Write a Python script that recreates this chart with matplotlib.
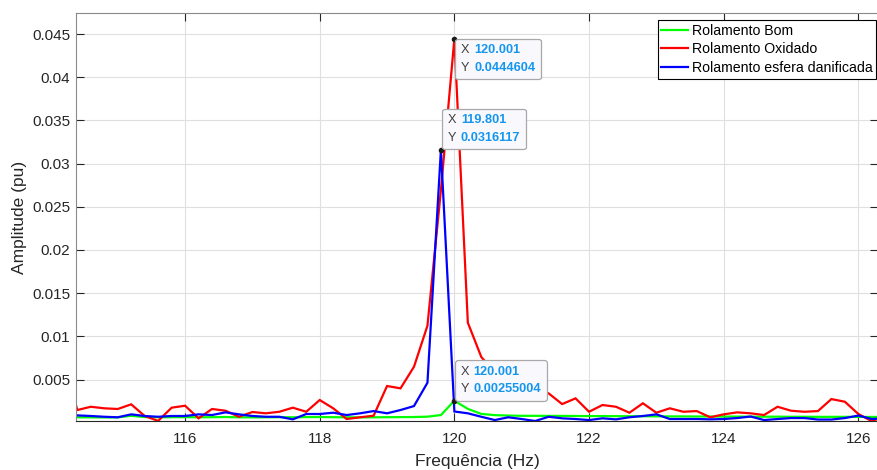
import matplotlib
matplotlib.use("Agg")
import matplotlib.pyplot as plt
from matplotlib.offsetbox import TextArea, HPacker, VPacker, AnnotationBbox

plt.rcParams['font.family'] = ['Liberation Sans', 'DejaVu Sans']

# ---------------- data ----------------
freq = [114.201, 114.401, 114.601, 114.801, 115.001, 115.201, 115.401, 115.601,
        115.801, 116.001, 116.201, 116.401, 116.601, 116.801, 117.001, 117.201,
        117.401, 117.601, 117.801, 118.001, 118.201, 118.401, 118.601, 118.801,
        119.001, 119.201, 119.401, 119.601, 119.801, 120.001, 120.201, 120.401,
        120.601, 120.801, 121.001, 121.201, 121.401, 121.601, 121.801, 122.001,
        122.201, 122.401, 122.601, 122.801, 123.001, 123.201, 123.401, 123.601,
        123.801, 124.001, 124.201, 124.401, 124.601, 124.801, 125.001, 125.201,
        125.401, 125.601, 125.801, 126.001, 126.201, 126.401]

bom = [0.00065, 0.00063, 0.00062, 0.00061, 0.00062, 0.00080, 0.00066, 0.00063,
       0.00064, 0.00065, 0.00063, 0.00064, 0.00066, 0.00063, 0.00062, 0.00063,
       0.00064, 0.00063, 0.00065, 0.00066, 0.00064, 0.00063, 0.00062, 0.00063,
       0.00064, 0.00065, 0.00066, 0.00070, 0.00089, 0.00255004, 0.00160, 0.00102,
       0.00088, 0.00083, 0.00080, 0.00080, 0.00079, 0.00079, 0.00078, 0.00077,
       0.00077, 0.00076, 0.00075, 0.00075, 0.00074, 0.00073, 0.00073, 0.00072,
       0.00072, 0.00071, 0.00071, 0.00070, 0.00070, 0.00070, 0.00069, 0.00069,
       0.00068, 0.00068, 0.00068, 0.00067, 0.00067, 0.00066]

oxidado = [0.00700, 0.00147, 0.00185, 0.00167, 0.00159, 0.00213, 0.00078, 0.00021,
           0.00174, 0.00197, 0.00051, 0.00159, 0.00139, 0.00069, 0.00124, 0.00109,
           0.00127, 0.00174, 0.00127, 0.00263, 0.00167, 0.00043, 0.00063, 0.00081,
           0.00425, 0.00398, 0.00648, 0.01123, 0.02694, 0.0444604, 0.01158, 0.00761,
           0.00580, 0.00470, 0.00420, 0.00390, 0.00340, 0.00216, 0.00282, 0.00127,
           0.00205, 0.00185, 0.00116, 0.00225, 0.00116, 0.00167, 0.00127, 0.00135,
           0.00063, 0.00097, 0.00120, 0.00109, 0.00089, 0.00185, 0.00139, 0.00127,
           0.00135, 0.00274, 0.00243, 0.00101, 0.00018, 0.00080]

esfera = [0.00100, 0.00085, 0.00078, 0.00069, 0.00063, 0.00097, 0.00078, 0.00069,
          0.00078, 0.00078, 0.00097, 0.00089, 0.00120, 0.00097, 0.00078, 0.00069,
          0.00069, 0.00039, 0.00101, 0.00101, 0.00116, 0.00089, 0.00109, 0.00135,
          0.00109, 0.00147, 0.00193, 0.00463, 0.0316117, 0.00130, 0.00109, 0.00069,
          0.00031, 0.00063, 0.00043, 0.00020, 0.00069, 0.00051, 0.00043, 0.00031,
          0.00051, 0.00039, 0.00063, 0.00078, 0.00097, 0.00043, 0.00043, 0.00043,
          0.00039, 0.00043, 0.00054, 0.00072, 0.00031, 0.00043, 0.00054, 0.00054,
          0.00037, 0.00037, 0.00054, 0.00083, 0.00043, 0.00050]

labels = ['Rolamento Bom', 'Rolamento Oxidado', 'Rolamento esfera danificada']
colors = ['#00ff00', '#ff0000', '#0000ff']

xticks = [116, 118, 120, 122, 124, 126]
yticks = [0.005, 0.01, 0.015, 0.02, 0.025, 0.03, 0.035, 0.04, 0.045]

# data tips: (series index, point index)
tips = [(1, 29), (2, 28), (0, 29)]

# ---------------- figure ----------------
W, H = 877, 470
fig = plt.figure(figsize=(W / 100, H / 100), dpi=100)
ax = fig.add_axes([76 / W, (H - 421) / H, (878 - 76) / W, (421 - 13.3) / H])

series = [bom, oxidado, esfera]
for s, lab, c in zip(series, labels, colors):
    ax.plot(freq, s, color=c, lw=1.6, label=lab, solid_joinstyle='miter')

ax.set_xlim(114.381, 126.293)
ax.set_ylim(0.0002, 0.0474)
ax.set_xticks(xticks)
ax.set_xticklabels([f'{t:g}' for t in xticks])
ax.set_yticks(yticks)
ax.set_yticklabels([f'{t:g}' for t in yticks])

ax.grid(True, color='#dfdfdf', lw=0.8)
ax.set_axisbelow(True)
ax.tick_params(direction='in', top=True, right=True, length=6, width=0.8,
               color='#262626', labelcolor='#262626', labelsize=11)
ax.tick_params(axis='x', pad=8)
ax.tick_params(axis='y', pad=4)
for side in ('left', 'top', 'right'):
    ax.spines[side].set_color('#8a8a8a')
ax.spines['bottom'].set_color('#262626')
for sp in ax.spines.values():
    sp.set_linewidth(0.8)

ax.set_xlabel('Frequência (Hz)', fontsize=12.5, color='#262626', labelpad=6)
ax.set_ylabel('Amplitude (pu)', fontsize=12.5, color='#262626', labelpad=4)

leg = ax.legend(loc='upper right', bbox_to_anchor=(0.9975, 0.9836), borderaxespad=0,
                fontsize=10.2, fancybox=False, framealpha=1, edgecolor='black',
                borderpad=0.25, labelspacing=0.34, handlelength=1.9, handletextpad=0.25)
leg.get_frame().set_linewidth(0.8)

# data tips
offsets = {(1, 29): ((0, 1), (4.75, -3.96)),
           (2, 28): ((0, 0), (4.75, 4.25)),
           (0, 29): ((0, 0), (4.25, 3.75))}
for si, pi in tips:
    x, y = freq[pi], series[si][pi]
    ax.plot([x], [y], 'o', color='#1a1a1a', ms=3, zorder=5)
    rows = []
    for lab, val in (('X', f'{x:.6g}'), ('Y', f'{y:.6g}')):
        t1 = TextArea(lab, textprops=dict(color='#404040', fontsize=9.2))
        t2 = TextArea(val, textprops=dict(color='#1496f0', fontsize=9.2, fontweight='bold'))
        rows.append(HPacker(children=[t1, t2], pad=0, sep=3.5, align='baseline'))
    box = VPacker(children=rows, pad=0, sep=4, align='left')
    align, off = offsets[(si, pi)]
    ab = AnnotationBbox(box, (x, y), xybox=off, xycoords='data', boxcoords='offset points',
                        box_alignment=align, frameon=True,
                        bboxprops=dict(boxstyle='round,pad=0.4,rounding_size=0.2',
                                       fc='#f9f9fd', ec='#a8a8a8', lw=0.9))
    ab.set_zorder(6)
    ax.add_artist(ab)

fig.savefig('out.png', dpi=100)
